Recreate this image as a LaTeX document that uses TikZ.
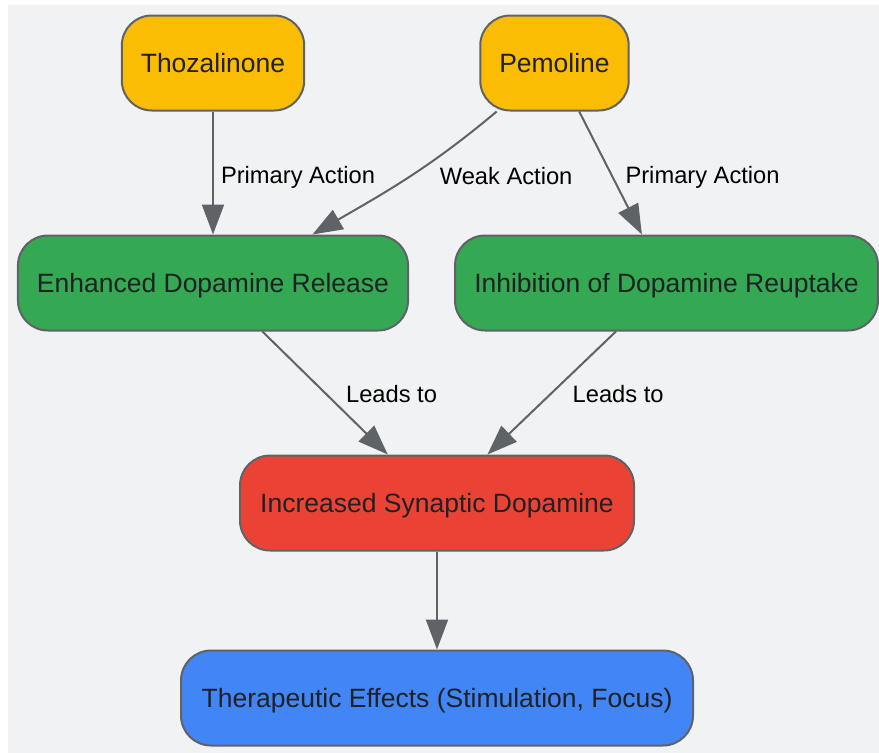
\documentclass[tikz,border=0pt]{standalone}
\usepackage{fontspec}
\setmainfont{Liberation Sans}
\usetikzlibrary{arrows.meta}
\definecolor{bgcol}{HTML}{F1F2F4}
\definecolor{edgecol}{HTML}{5F6368}
\definecolor{drugcol}{HTML}{FBBC04}
\definecolor{mechcol}{HTML}{34A853}
\definecolor{effcol}{HTML}{EA4335}
\definecolor{outcol}{HTML}{4285F4}
\definecolor{txtcol}{HTML}{202124}
\tikzset{
  box/.style={draw=edgecol,line width=2pt,rounded corners=30pt,
    minimum height=95pt,inner xsep=19pt,text=txtcol,
    text height=19pt,text depth=0pt,
    font=\fontsize{26.5}{30}\selectfont},
  link/.style={draw=edgecol,line width=2pt,-{Triangle[length=30pt,width=22pt]}},
  lbl/.style={text=black,inner sep=0pt,anchor=west,
    text height=17pt,text depth=0pt,
    font=\fontsize{23.7}{28}\selectfont}
}

\begin{document}
\begin{tikzpicture}[x=1pt,y=-1pt]
    \useasboundingbox (0,0) rectangle (879,753);
    \fill[bgcol] (8,5) rectangle (879,753);

    % drugs
    \node[box,fill=drugcol] (thoz) at (213,63) {Thozalinone};
    \node[box,fill=drugcol] (pem) at (554.5,63) {Pemoline};
    % mechanisms
    \node[box,fill=mechcol,minimum width=390pt] (rel) at (213,283) {Enhanced Dopamine Release};
    \node[box,fill=mechcol,minimum width=423pt] (reup) at (666.5,283) {Inhibition of Dopamine Reuptake};
    % effect
    \node[box,fill=effcol,minimum width=394pt] (syn) at (437,503) {Increased Synaptic Dopamine};
    \node[box,fill=outcol,minimum width=512pt] (ther) at (437,698) {Therapeutic Effects (Stimulation, Focus)};

    \draw[link] (thoz) -- (rel) node[lbl,pos=0.5,xshift=7pt,yshift=-2pt]{Primary Action};
    \draw[link] (pem.-140.6) to[out=-140,in=30]
        node[lbl,pos=0.5,xshift=31pt,yshift=2pt]{Weak Action} (rel.26.8);
    \draw[link] (pem) -- (reup) node[lbl,pos=0.5,xshift=14pt,yshift=-2pt]{Primary Action};
    \draw[link] (rel) -- (syn) node[lbl,pos=0.5,xshift=20pt,yshift=-1pt]{Leads to};
    \draw[link] (reup) -- (syn) node[lbl,pos=0.5,xshift=20pt,yshift=-1pt]{Leads to};
    \draw[link] (syn) -- (ther);
\end{tikzpicture}
\end{document}
